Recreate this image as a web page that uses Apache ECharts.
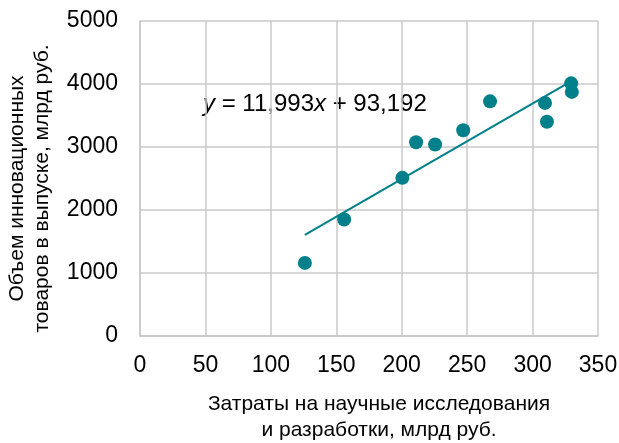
<!DOCTYPE html>
<html>
<head>
<meta charset="utf-8">
<script src="https://cdn.jsdelivr.net/npm/echarts@6/dist/echarts.min.js"></script>
<style>html,body{margin:0;padding:0;background:#fff}#c{width:619px;height:443px}</style>
</head>
<body>
<div id="c"></div>
<script>
var rdCosts = [126, 156, 200.5, 211, 225.5, 247, 267.5, 309.5, 311, 329.5, 330];
var innovGoods = [1160, 1850, 2510, 3075, 3040, 3265, 3725, 3700, 3400, 4010, 3875];
var trendSlope = 11.993;
var trendIntercept = 93.192;
var xTitle = 'Затраты на научные исследования\nи разработки, млрд руб.';
var yTitle = 'Объем инновационных\nтоваров в выпуске, млрд руб.';

var points = rdCosts.map(function (x, i) { return [x, innovGoods[i]]; });
var xMin = Math.min.apply(null, rdCosts), xMax = Math.max.apply(null, rdCosts);
var trend = [[xMin, trendSlope * xMin + trendIntercept], [xMax, trendSlope * xMax + trendIntercept]];

var FONT = '"Liberation Sans", Arial, sans-serif';
var TEAL = '#00808a';
var GRID = '#c8c8c8';

var chart = echarts.init(document.getElementById('c'), null, {renderer: 'canvas'});
chart.setOption({
  animation: false,
  backgroundColor: '#fff',
  textStyle: {fontFamily: FONT},
  grid: {left: 140, right: 21, top: 21, bottom: 107, containLabel: false, outerBoundsMode: 'none'},
  xAxis: {
    type: 'value', min: 0, max: 350, interval: 50,
    axisLine: {show: true, lineStyle: {color: GRID, width: 1.5}},
    axisTick: {show: false},
    splitLine: {show: true, lineStyle: {color: GRID, width: 1.5}},
    axisLabel: {color: '#000', fontSize: 23, fontFamily: FONT, margin: 18,
      formatter: function (v) { return String(v); }},
    name: xTitle, nameLocation: 'middle', nameGap: 55,
    nameTextStyle: {color: '#000', fontSize: 21, fontFamily: FONT, lineHeight: 26, verticalAlign: 'top', padding: [0, 0, 0, 20]}
  },
  yAxis: {
    type: 'value', min: 0, max: 5000, interval: 1000,
    axisLine: {show: true, lineStyle: {color: GRID, width: 1.5}},
    axisTick: {show: false},
    splitLine: {show: true, lineStyle: {color: GRID, width: 1.5}},
    axisLabel: {color: '#000', fontSize: 23, fontFamily: FONT, margin: 22,
      formatter: function (v) { return String(v); }},
    name: yTitle, nameLocation: 'middle', nameGap: 85, nameRotate: 90,
    nameTextStyle: {color: '#000', fontSize: 21, fontFamily: FONT, lineHeight: 25, padding: [0, 20, 0, 0]}
  },
  series: [
    {
      type: 'line', data: trend, symbol: 'none', silent: true,
      lineStyle: {color: TEAL, width: 2}, z: 2
    },
    {
      type: 'scatter', data: points, symbol: 'circle', symbolSize: 14,
      itemStyle: {color: TEAL, opacity: 1}, z: 3
    }
  ],
  graphic: [{
    type: 'text', left: 203, top: 92,
    style: {
      text: '{i|y} = 11,993{i|x} + 93,192',
      font: '24px ' + FONT, fill: '#000',
      rich: {i: {fontStyle: 'italic', fontSize: 24, fontFamily: FONT, fill: '#000'}}
    }
  }]
});
</script>
</body>
</html>
